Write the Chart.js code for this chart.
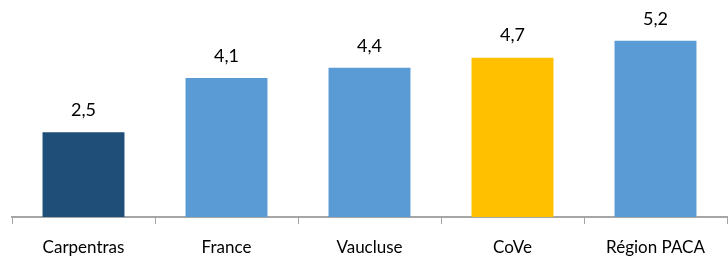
<!DOCTYPE html>
<html>
<head>
<meta charset="utf-8">
<script src="https://cdn.jsdelivr.net/npm/chart.js@4"></script>
<style>
  html, body { margin: 0; padding: 0; background: #fff; }
  #wrap { width: 728px; height: 262px; }
</style>
</head>
<body>
<div id="wrap"><canvas id="myChart" width="728" height="262"></canvas></div>
<script>
let categories = ['Carpentras', 'France', 'Vaucluse', 'CoVe', 'Région PACA'];
let values = [2.5, 4.1, 4.4, 4.7, 5.2];
let barColors = ['#1F4E79', '#5B9BD5', '#5B9BD5', '#FFC000', '#5B9BD5'];

// labels above the bars, french decimal comma
let valueLabels = {
    id: 'valueLabels',
    afterDatasetsDraw(chart)
    {
        let c = chart.ctx;
        let meta = chart.getDatasetMeta(0);
        c.save();
        c.font = '18px Lato, sans-serif';
        c.fillStyle = '#000';
        c.textAlign = 'center';
        c.textBaseline = 'middle';
        meta.data.forEach(function(bar, i)
        {
            c.fillText(values[i].toFixed(1).replace('.', ','), bar.x, bar.y - 22);
        });
        c.restore();
    }
};

let ctx = document.getElementById('myChart').getContext('2d');

let myChart = new Chart(ctx,
{
    type: 'bar',
    data:
    {
        labels: categories,
        datasets:
        [{
            data: values,
            backgroundColor: barColors,
            borderWidth: 0,
            categoryPercentage: 1,
            barPercentage: 0.573
        }]
    },
    options:
    {
        responsive: false,
        animation: false,
        layout: { padding: { left: 12, right: 1, top: 0, bottom: 0 } },
        plugins:
        {
            legend: { display: false },
            tooltip: { enabled: false }
        },
        scales:
        {
            x:
            {
                afterFit: function(scale) { scale.height = 45; },
                grid:
                {
                    offset: true,
                    drawOnChartArea: false,
                    drawTicks: true,
                    tickLength: 7,
                    color: '#A6A6A6'
                },
                border: { color: '#A6A6A6', width: 2 },
                ticks:
                {
                    color: '#000',
                    padding: 15,
                    font: { family: 'Lato, sans-serif', size: 17, lineHeight: 1 }
                }
            },
            y:
            {
                display: false,
                min: 0,
                max: 6.4
            }
        }
    },
    plugins: [valueLabels]
});
</script>
</body>
</html>
